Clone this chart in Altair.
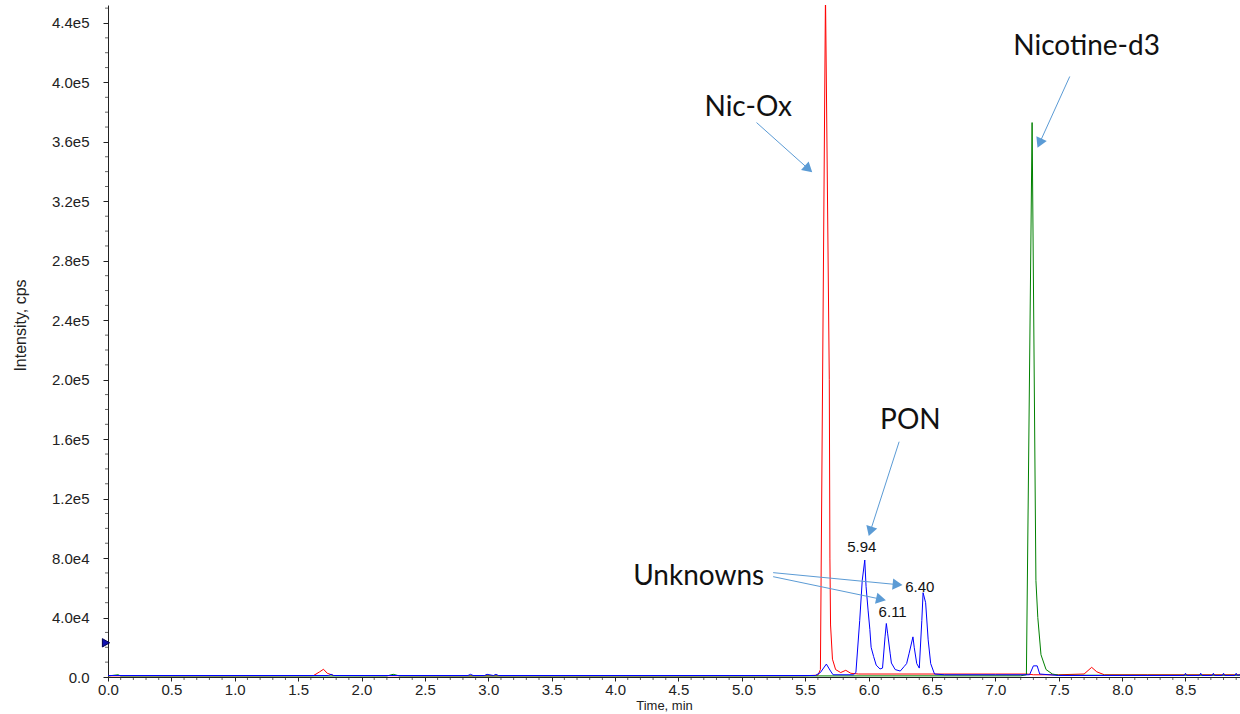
import math
import altair as alt
import pandas as pd

# ---------------- data ----------------
red_time = [0.0, 1.0, 1.62, 1.67, 1.70, 1.73, 1.78, 2.5, 3.5, 4.5, 5.5, 5.60, 5.62, 5.66,
            5.69, 5.695, 5.70, 5.715, 5.74, 5.78, 5.82, 5.86, 5.92, 6.5, 7.0, 7.25, 7.30,
            7.50, 7.70, 7.76, 7.80, 7.86, 8.2, 8.93]
red_int = [800, 800, 900, 3500, 5200, 2500, 1000, 800, 800, 800, 900, 1200, 5000, 460000,
           200000, 80000, 35000, 12000, 5000, 3000, 4500, 2500, 2000, 2000, 2000, 2000, 1500,
           1500, 2000, 6500, 3500, 1500, 1500, 1500]

green_time = [0.0, 0.08, 0.10, 2.20, 2.25, 2.30, 5.0, 7.20, 7.245, 7.29, 7.32, 7.335, 7.36,
              7.40, 7.45, 7.50, 8.0, 8.93]
green_int = [700, 1500, 700, 700, 1800, 700, 700, 800, 1500, 373000, 65000, 40000, 15000,
             5000, 2000, 1200, 1200, 1200]

blue_time = [0.0, 0.6, 1.74, 1.76, 1.78, 2.84, 2.86, 2.88, 2.97, 2.99, 3.04, 3.06, 3.08,
             4.0, 4.9, 5.58, 5.62, 5.667, 5.70, 5.72, 5.88, 5.90, 5.93, 5.95, 5.97, 5.98,
             5.996, 6.01, 6.02, 6.04, 6.06, 6.09, 6.11, 6.13, 6.14, 6.15, 6.17, 6.18, 6.21,
             6.25, 6.28, 6.30, 6.32, 6.35, 6.36, 6.38, 6.40, 6.42, 6.43, 6.45, 6.47, 6.49,
             6.52, 6.6, 7.0, 7.27, 7.30, 7.33, 7.35, 7.5, 8.0, 8.49, 8.50, 8.51, 8.61, 8.62,
             8.63, 8.71, 8.72, 8.73, 8.79, 8.80, 8.81, 8.89, 8.90, 8.91, 8.93]
blue_int = [1000, 1000, 1000, 1800, 1000, 1000, 1800, 1000, 1000, 1800, 1000, 1800, 1000,
            1000, 1000, 1000, 3000, 8700, 4000, 1500, 1500, 3000, 38000, 65000, 78700, 61000,
            45000, 32000, 20000, 13700, 8000, 5400, 6000, 27000, 36000, 29500, 16000, 9400,
            5000, 4000, 7000, 9000, 16000, 27000, 20000, 9000, 6000, 38000, 56700, 50000,
            25000, 9000, 2000, 1500, 1500, 1500, 7500, 7500, 2000, 1000, 1000, 1000, 2500,
            1000, 1000, 2500, 1000, 1000, 2500, 1000, 1000, 2500, 1000, 1000, 2500, 1000,
            1500]

# annotation texts (big labels)
big_labels = ["Nic-Ox", "Nicotine-d3", "PON", "Unknowns"]
big_time = [5.05, 7.72, 6.33, 4.66]
big_int = [383000, 424000, 172000, 67300]

# retention-time labels
rt_labels = ["5.94", "6.40", "6.11"]
rt_time = [5.946, 6.404, 6.19]
rt_int = [87500, 60600, 43700]

# arrows: start (time, intensity) -> tip (time, intensity)
arrow_t0 = [5.116, 7.587, 6.241, 5.247, 5.247]
arrow_i0 = [373000, 404000, 158300, 70200, 67500]
arrow_t1 = [5.549, 7.336, 6.004, 6.259, 6.128]
arrow_i1 = [340000, 356800, 95500, 61900, 51800]

marker_int = [23000]

# axis ticks
x_major = [round(0.5 * k, 1) for k in range(0, 18)]
x_minor = [round(0.1 * k, 1) for k in range(0, 90) if k % 5 != 0]
y_major = [k * 40000 for k in range(0, 12)]
y_minor = [k * 10000 for k in range(0, 46) if k % 4 != 0]

X_MAX = 8.93
Y_MAX = 452100
W, H = 1132, 672

# ---------------- tables ----------------
traces = pd.concat([
    pd.DataFrame({"t": red_time, "i": red_int, "trace": "red", "o": range(len(red_time))}),
    pd.DataFrame({"t": green_time, "i": green_int, "trace": "green", "o": range(len(green_time))}),
    pd.DataFrame({"t": blue_time, "i": blue_int, "trace": "blue", "o": range(len(blue_time))}),
])

px_x = W / X_MAX
px_y = H / Y_MAX
heads = []
for t0, i0, t1, i1 in zip(arrow_t0, arrow_i0, arrow_t1, arrow_i1):
    dx = (t1 - t0) * px_x
    dy = -(i1 - i0) * px_y
    L = math.hypot(dx, dy)
    ang = math.degrees(math.atan2(dx, -dy)) % 360
    back = 5.5
    ht = t1 - dx / L * back / px_x
    hi = i1 + dy / L * back / px_y
    lt = t1 - dx / L * 8 / px_x
    li = i1 + dy / L * 8 / px_y
    heads.append({"t0": t0, "i0": i0, "lt": lt, "li": li, "ht": ht, "hi": hi, "angle": ang})
arrows = pd.DataFrame(heads)

xs = alt.Scale(domain=[0, X_MAX], nice=False, zero=False)
ys = alt.Scale(domain=[0, Y_MAX], nice=False, zero=False)

x_axis = alt.Axis(
    values=x_major, title="Time, min", grid=False, format=".1f", tickSize=4,
    labelFont="Liberation Sans", labelFontSize=15, labelColor="#222", labelPadding=1,
    labelOverlap=False, labelFlush=False,
    titleFont="Liberation Sans", titleFontSize=13, titleFontWeight="normal", titleColor="#222",
    titleX=556, titleY=28, titleBaseline="middle", titleAlign="center",
    domainColor="#222", tickColor="#222",
)
y_axis = alt.Axis(
    values=y_major, title="Intensity, cps", grid=False, tickSize=5,
    labelExpr="datum.value == 0 ? '0.0' : replace(format(datum.value, '.1e'), '+', '')",
    labelFont="Liberation Sans", labelFontSize=15, labelColor="#222", labelPadding=14,
    labelOverlap=False, labelFlush=False,
    titleFont="Liberation Sans", titleFontSize=16, titleFontWeight="normal", titleColor="#222",
    titleX=-88, titleY=320, titleAngle=270, titleBaseline="middle", titleAlign="center",
    domainColor="#222", tickColor="#222",
)


def X(field):
    return alt.X(field, type="quantitative", scale=xs, axis=x_axis)


def Y(field):
    return alt.Y(field, type="quantitative", scale=ys, axis=y_axis)


lines = alt.Chart(traces).mark_line(strokeWidth=1, clip=True).encode(
    x=X("t"),
    y=Y("i"),
    color=alt.Color("trace:N", scale=alt.Scale(domain=["red", "green", "blue"],
                                               range=["#FF0000", "#008000", "#0000FF"]),
                    legend=None),
    detail="trace:N",
    order="o:Q",
)

xminor = alt.Chart(pd.DataFrame({"v": x_minor, "z": [0] * len(x_minor)})).mark_tick(
    orient="vertical", size=3, thickness=1, color="#222", yOffset=1.5
).encode(x=X("v"), y=Y("z"))

yminor = alt.Chart(pd.DataFrame({"v": y_minor, "z": [0] * len(y_minor)})).mark_tick(
    orient="horizontal", size=3, thickness=1, color="#222", xOffset=-1.5
).encode(y=Y("v"), x=X("z"))

arrow_color = "#5B9BD5"
arrow_lines = alt.Chart(arrows).mark_rule(color=arrow_color, strokeWidth=1).encode(
    x=X("t0"), y=Y("i0"), x2="lt:Q", y2="li:Q"
)
arrow_heads = alt.Chart(arrows).mark_point(shape="triangle", filled=True, color=arrow_color,
                                          opacity=1, size=130).encode(
    x=X("ht"), y=Y("hi"),
    angle=alt.Angle("angle:Q", scale=None)
)

big = alt.Chart(pd.DataFrame({"t": big_time, "i": big_int, "label": big_labels})).mark_text(
    font="Lato", fontSize=28, color="#111", align="center", baseline="middle"
).encode(x=X("t"), y=Y("i"), text="label:N")

rt = alt.Chart(pd.DataFrame({"t": rt_time, "i": rt_int, "label": rt_labels})).mark_text(
    font="Liberation Sans", fontSize=15, color="#111", align="center", baseline="middle"
).encode(x=X("t"), y=Y("i"), text="label:N")

marker = alt.Chart(pd.DataFrame({"t": [0.0], "i": marker_int})).mark_point(
    shape="triangle-right", filled=True, color="#1010B0", stroke="#000050", strokeWidth=1,
    opacity=1, size=70, xOffset=-2
).encode(x=X("t"), y=Y("i"))

chart = alt.layer(lines, xminor, yminor, arrow_lines, arrow_heads, big, rt, marker).properties(
    width=W, height=H,
    padding={"left": 108, "top": 5, "right": 0, "bottom": 37},
    autosize=alt.AutoSizeParams(type="none"),
    background="white",
).configure_view(stroke=None)

chart.save("out.html", embed_options={"renderer": "svg", "actions": False})
